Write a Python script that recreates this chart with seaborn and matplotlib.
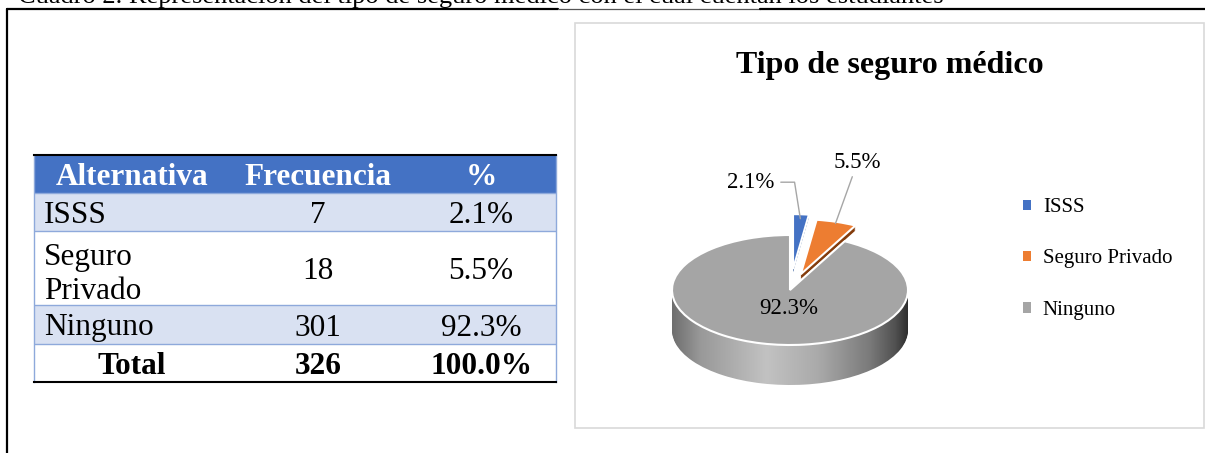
import numpy as np
import matplotlib
matplotlib.use("Agg")
import matplotlib.pyplot as plt
import seaborn as sns
from matplotlib.lines import Line2D
from matplotlib.patches import Rectangle, Patch
from matplotlib.colors import LinearSegmentedColormap

# ---------------- data ----------------
categories = ["ISSS", "Seguro Privado", "Ninguno"]
table_labels = ["ISSS", "Seguro\nPrivado", "Ninguno"]
frequencies = [7, 18, 301]
percentages = [2.1, 5.5, 92.3]
total_freq = 326
total_pct = 100.0
headers = ["Alternativa", "Frecuencia", "%"]
title = "Tipo de seguro médico"
caption = "Cuadro 2. Representación del tipo de seguro médico con el cual cuentan los estudiantes"

# ---------------- style ----------------
sns.set_theme(style="white")
plt.rcParams["font.family"] = ["Liberation Serif", "DejaVu Serif"]
plt.rcParams["text.color"] = "black"

top_colors = ["#4472C4", "#ED7D31", "#A5A5A5"]
side_colors = ["#2F5597", "#843C0C", "#8C8C8C"]
explode = [0.38, 0.30, 0.0]

W, H = 1205, 453
fig = plt.figure(figsize=(W / 100, H / 100), dpi=100)
fig.patch.set_facecolor("white")


def fx(px):
    return px / W


def fy(py):
    return 1 - py / H


# outer document frame and clipped caption
fig.add_artist(Line2D([fx(7), fx(7)], [fy(8.5), 0], color="black", lw=1.6))
fig.add_artist(Line2D([fx(7), fx(558)], [fy(8.5), fy(8.5)], color="black", lw=1.6))
fig.add_artist(Line2D([fx(558), fx(760)], [fy(8.5), fy(8.5)], color="#555555", lw=0.9))
fig.add_artist(Line2D([fx(760), 1], [fy(8.5), fy(8.5)], color="black", lw=1.6))
fig.text(fx(18), fy(3.5), caption, fontsize=19, ha="left", va="baseline", color="black")

# chart box
fig.add_artist(Rectangle((fx(575), fy(428)), fx(1204) - fx(575), fy(23) - fy(428),
                         fill=False, edgecolor="#D9D9D9", lw=1.2))

# ---------------- table ----------------
tax = fig.add_axes([fx(34), fy(382), fx(556) - fx(34), fy(155) - fy(382)])
tax.set_xticks([])
tax.set_yticks([])
tax.set_xlim(0, 1)
tax.set_ylim(0, 1)
for s in ["top", "bottom"]:
    tax.spines[s].set_color("black")
    tax.spines[s].set_linewidth(1.5)
    tax.spines[s].set_zorder(5)
for s in ["left", "right"]:
    tax.spines[s].set_color("#8EA9DB")
    tax.spines[s].set_linewidth(1.0)
    tax.spines[s].set_zorder(5)

cell_text = [headers]
for lab, f, p in zip(table_labels, frequencies, percentages):
    cell_text.append([lab, str(f), f"{p:.1f}%"])
cell_text.append(["Total", str(total_freq), f"{total_pct:.1f}%"])

tbl = tax.table(cellText=cell_text, bbox=[0, 0, 1, 1], cellLoc="center")
tbl.auto_set_font_size(False)
tbl.set_fontsize(22.5)
row_h = [38, 38, 74, 39, 38]
col_w = [196, 176, 150]
n_rows = len(cell_text)
for (r, c), cell in tbl.get_celld().items():
    cell.set_height(row_h[r])
    cell.set_width(col_w[c])
    cell.set_linewidth(0)
    txt = cell.get_text()
    txt.set_fontfamily(["Liberation Serif", "DejaVu Serif"])
    txt.set_linespacing(1.25)
    txt.set_verticalalignment("center_baseline")
    txt.set_color("black")
    if r == 0:
        cell.set_facecolor("#4472C4")
        cell.set_edgecolor("#4472C4")
        txt.set_color("white")
        txt.set_fontweight("bold")
    elif r == n_rows - 1:
        cell.set_facecolor("white")
        cell.set_edgecolor("white")
        txt.set_fontweight("bold")
    else:
        fc = "#D9E1F2" if r % 2 == 1 else "white"
        cell.set_facecolor(fc)
        cell.set_edgecolor(fc)
        if c == 0:
            txt.set_horizontalalignment("left")
            cell.PAD = 0.05

# light-blue row separators
bounds = 1 - np.cumsum(row_h)[:-1] / np.sum(row_h)
for b in bounds:
    tax.axhline(b, color="#8EA9DB", lw=1.0, zorder=4)

# ---------------- 3D-looking pie ----------------
pax = fig.add_axes([fx(640), fy(420), fx(940) - fx(640), fy(150) - fy(420)])
rx_px, ry_px = 118, 55
depth = 40 / ry_px
small_depth = 5 / ry_px
N = 40
side_cmap = LinearSegmentedColormap.from_list(
    "side",
    [(0.0, "#6e6e6e"), (0.12, "#999999"), (0.4, "#c2c2c2"), (0.62, "#aaaaaa"),
     (0.84, "#7a7a7a"), (0.95, "#505050"), (1.0, "#2e2e2e")])
grad = side_cmap(np.linspace(0, 1, 256))[None, :, :]

for k in range(N, 0, -1):
    dy = -depth * k / N
    z = 1 + (N - k) / N
    wedges, _ = pax.pie(frequencies, explode=explode, startangle=90, counterclock=False,
                        center=(0, dy), colors=side_colors, wedgeprops=dict(linewidth=0))
    for i, w in enumerate(wedges):
        w.set_zorder(z)
        if i < 2 and -dy > small_depth:
            w.set_visible(False)
    if -dy > 3 / ry_px:
        wedges[0].set_visible(False)
    gw = wedges[2]
    gw.set_facecolor("none")
    im = pax.imshow(grad, extent=(-1.0, 1.0, dy - 1.05, dy + 1.05), aspect="auto",
                    zorder=z, interpolation="bilinear")
    im.set_clip_path(gw)

top_wedges, _ = pax.pie(frequencies, explode=explode, startangle=90, counterclock=False,
                        colors=top_colors, wedgeprops=dict(edgecolor="white", linewidth=1.5))
for w in top_wedges:
    w.set_zorder(3)

pax.set_xlim(-300 / (2 * rx_px), 300 / (2 * rx_px))
pax.set_ylim(-130 / ry_px, 140 / ry_px)
pax.set_aspect("auto")
pax.axis("off")


def wedge_point(w, r_frac):
    ang = np.deg2rad((w.theta1 + w.theta2) / 2)
    cx, cy = w.center
    return cx + r_frac * w.r * np.cos(ang), cy + r_frac * w.r * np.sin(ang)


label_fs = 16.5
pax.text(-0.01, -0.33, f"{percentages[2]:.1f}%", ha="center", va="center",
         fontsize=label_fs, zorder=6, color="black")
pax.annotate(f"{percentages[0]:.1f}%", xy=wedge_point(top_wedges[0], 0.92),
             xytext=(-0.33, 1.96), ha="center", va="center", fontsize=label_fs, zorder=6,
             annotation_clip=False, color="black",
             arrowprops=dict(arrowstyle="-", color="#A6A6A6", lw=1.0, shrinkA=2, shrinkB=0,
                             connectionstyle="angle,angleA=0,angleB=99,rad=0"))
pax.annotate(f"{percentages[1]:.1f}%", xy=wedge_point(top_wedges[1], 0.97),
             xytext=(0.57, 2.31), ha="center", va="center", fontsize=label_fs, zorder=6,
             annotation_clip=False, color="black",
             arrowprops=dict(arrowstyle="-", color="#A6A6A6", lw=1.0, shrinkA=0, shrinkB=0))

# title
fig.text(fx(890), fy(73), title, fontsize=23, fontweight="bold", ha="center", va="baseline",
         color="black")

# legend
handles = [Patch(facecolor=w.get_facecolor(), edgecolor="none") for w in top_wedges]
leg = fig.legend(handles, categories, loc="center left", bbox_to_anchor=(fx(1023), fy(259)),
                 frameon=False, fontsize=15, handlelength=0.4, handleheight=0.4,
                 handletextpad=0.55, labelspacing=1.55, borderpad=0, borderaxespad=0)
for t in leg.get_texts():
    t.set_color("black")

fig.savefig("out.png", dpi=100, facecolor="white")
